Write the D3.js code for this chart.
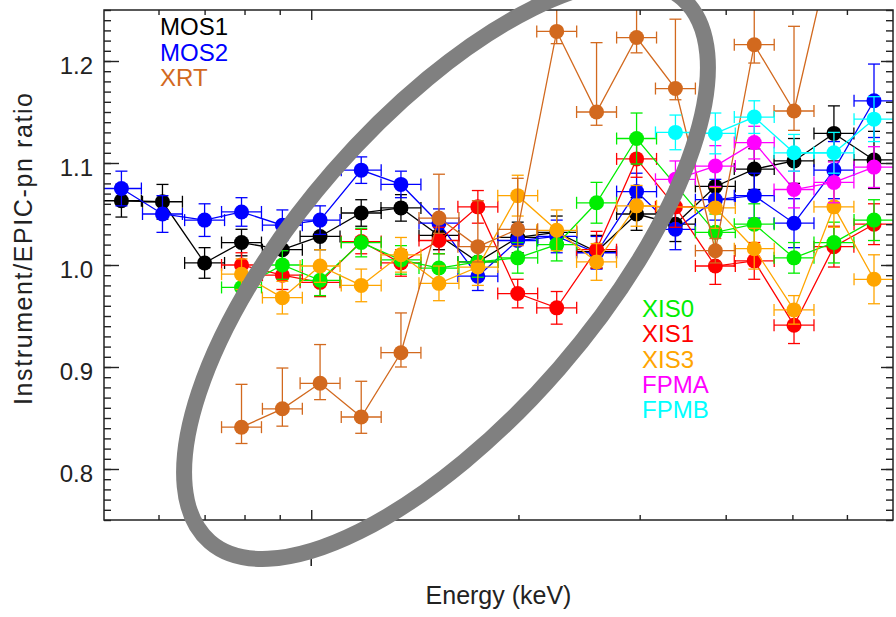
<!DOCTYPE html>
<html>
<head>
<meta charset="utf-8">
<script src="https://cdn.jsdelivr.net/npm/d3@7"></script>
<style>
  body { margin: 0; background: #fff; }
  svg { display: block; font-family: "Liberation Sans", Arial, Helvetica, sans-serif; }
</style>
</head>
<body>
<svg width="896" height="617"></svg>
<script>
// bin centres (keV), shared by all instruments
const energies = [0.530, 0.608, 0.700, 0.792, 0.908, 1.030, 1.182, 1.350, 1.533, 1.746,
                  1.995, 2.273, 2.597, 2.969, 3.381, 3.864, 4.401, 5.027, 5.745, 6.569];
const binHalfDex = 0.029; // half bin width in log10(E)

const mos1    = [1.063, 1.062, 1.002, 1.022, 1.015, 1.028, 1.051, 1.056, 1.029, 1.003,
                 1.027, 1.032, 1.013, 1.050, 1.040, 1.077, 1.094, 1.102, 1.129, 1.103];
const mos1Err = [0.016, 0.017, 0.015, 0.013, 0.013, 0.013, 0.013, 0.013, 0.014, 0.014,
                 0.015, 0.016, 0.016, 0.016, 0.017, 0.018, 0.020, 0.022, 0.027, 0.028];

const mos2    = [1.075, 1.050, 1.044, 1.052, 1.039, 1.044, 1.093, 1.079, 1.041, 0.989,
                 1.024, 1.028, 1.012, 1.072, 1.035, 1.064, 1.068, 1.041, 1.093, 1.161];
const mos2Err = [0.017, 0.018, 0.016, 0.014, 0.015, 0.014, 0.013, 0.013, 0.014, 0.014,
                 0.015, 0.016, 0.016, 0.018, 0.020, 0.020, 0.022, 0.024, 0.028, 0.036];

const xrt      = [null, null, null, 0.841, 0.859, 0.884, 0.851, 0.914, 1.046, 1.018,
                  1.035, 1.229, 1.150, 1.223, 1.173, 1.014, 1.216, 1.151, 1.320, null];
const xrtErrUp = [null, null, null, 0.042, 0.040, 0.038, 0.035, 0.039, 0.043, 0.045,
                  0.050, 0.070, 0.068, 0.075, 0.068, 0.012, 0.080, 0.083, 0.090, null];
const xrtErrDn = [null, null, null, 0.016, 0.017, 0.016, 0.016, 0.014, 0.015, 0.015,
                  0.016, 0.012, 0.013, 0.015, 0.011, 0.012, 0.018, 0.019, 0.020, null];

const xis0    = [null, null, null, 0.978, 1.000, 0.985, 1.022, 1.005, 0.997, 1.003,
                 1.007, 1.020, 1.061, 1.124, null, 1.032, 1.040, 1.007, 1.022, 1.044];
const xis0Err = [null, null, null, 0.014, 0.014, 0.015, 0.014, 0.014, 0.014, 0.015,
                 0.015, 0.016, 0.020, 0.025, null, 0.018, 0.020, 0.015, 0.020, 0.020];

const xis1    = [null, null, null, 1.000, 0.990, 0.983, 1.023, 1.002, 1.024, 1.057,
                 0.972, 0.958, 1.015, 1.104, 1.057, 0.999, 1.004, 0.941, 1.018, 1.040];
const xis1Err = [null, null, null, 0.012, 0.014, 0.014, 0.012, 0.013, 0.013, 0.016,
                 0.014, 0.016, 0.018, 0.018, 0.020, 0.018, 0.018, 0.018, 0.020, 0.020];

const xis3    = [null, null, null, 0.991, 0.968, 0.999, 0.980, 1.010, 0.982, 0.998,
                 1.068, 1.034, 1.003, 1.058, null, 1.056, 1.016, 0.956, 1.057, 0.986];
const xis3Err = [null, null, null, 0.015, 0.016, 0.016, 0.016, 0.017, 0.017, 0.018,
                 0.020, 0.020, 0.018, 0.020, null, 0.020, 0.020, 0.014, 0.020, 0.024];

const fpma    = [null, null, null, null, null, null, null, null, null, null,
                 null, null, null, null, 1.084, 1.097, 1.120, 1.074, 1.081, 1.096];
const fpmaErr = [null, null, null, null, null, null, null, null, null, null,
                 null, null, null, null, 0.018, 0.020, 0.016, 0.018, 0.020, 0.020];

const fpmb    = [null, null, null, null, null, null, null, null, null, null,
                 null, null, null, null, 1.130, 1.129, 1.145, 1.110, 1.110, 1.143];
const fpmbErr = [null, null, null, null, null, null, null, null, null, null,
                 null, null, null, null, 0.017, 0.020, 0.016, 0.018, 0.020, 0.022];

const yMajorTicks = [0.8, 0.9, 1.0, 1.1, 1.2];
const xMajorTicks = [1];
const xMinorTicks = [0.6, 0.7, 0.8, 0.9, 2, 3, 4, 5, 6];

// drawing order (later on top)
const series = [
  { name: "MOS1", color: "#000000", v: mos1, up: mos1Err,  dn: mos1Err },
  { name: "MOS2", color: "#0000ff", v: mos2, up: mos2Err,  dn: mos2Err },
  { name: "XIS1", color: "#ff0000", v: xis1, up: xis1Err,  dn: xis1Err },
  { name: "XIS0", color: "#00ee00", v: xis0, up: xis0Err,  dn: xis0Err },
  { name: "XIS3", color: "#ffa500", v: xis3, up: xis3Err,  dn: xis3Err },
  { name: "XRT",  color: "#d2691e", v: xrt,  up: xrtErrUp, dn: xrtErrDn },
  { name: "FPMA", color: "#ff00ff", v: fpma, up: fpmaErr,  dn: fpmaErr },
  { name: "FPMB", color: "#00ffff", v: fpmb, up: fpmbErr,  dn: fpmbErr }
];
const legendTop    = ["MOS1", "MOS2", "XRT"];
const legendBottom = ["XIS0", "XIS1", "XIS3", "FPMA", "FPMB"];
const colorOf = name => series.find(s => s.name === name).color;

const svg = d3.select("svg");
const plotL = 104, plotR = 893, plotT = 10, plotB = 520;
const ink = "#222";

const x = d3.scaleLog().domain([0.5, 7]).range([plotL, plotR]);
const y = d3.scaleLinear().domain([0.75, 1.25]).range([plotB, plotT]);

svg.append("defs").append("clipPath").attr("id", "plotClip")
  .append("rect")
  .attr("x", plotL).attr("y", plotT)
  .attr("width", plotR - plotL).attr("height", plotB - plotT);

const plot = svg.append("g").attr("clip-path", "url(#plotClip)");
const line = d3.line().x(d => x(d.e)).y(d => y(d.v));
const cap = 6;
const k = Math.pow(10, binHalfDex);

series.forEach(s => {
  const pts = energies.map((e, i) => ({ e: e, v: s.v[i], up: s.up[i], dn: s.dn[i] }))
    .filter(d => d.v != null);
  const g = plot.append("g").attr("stroke", s.color).attr("stroke-width", 1.3);

  g.append("path").attr("d", line(pts)).attr("fill", "none");

  const eb = g.selectAll(".eb").data(pts).join("g").attr("class", "eb");
  // x error bars with end caps
  eb.append("line")
    .attr("x1", d => x(d.e / k)).attr("x2", d => x(d.e * k))
    .attr("y1", d => y(d.v)).attr("y2", d => y(d.v));
  eb.append("line")
    .attr("x1", d => x(d.e / k)).attr("x2", d => x(d.e / k))
    .attr("y1", d => y(d.v) - cap).attr("y2", d => y(d.v) + cap);
  eb.append("line")
    .attr("x1", d => x(d.e * k)).attr("x2", d => x(d.e * k))
    .attr("y1", d => y(d.v) - cap).attr("y2", d => y(d.v) + cap);
  // y error bars with end caps
  eb.append("line")
    .attr("x1", d => x(d.e)).attr("x2", d => x(d.e))
    .attr("y1", d => y(d.v + d.up)).attr("y2", d => y(d.v - d.dn));
  eb.append("line")
    .attr("x1", d => x(d.e) - cap).attr("x2", d => x(d.e) + cap)
    .attr("y1", d => y(d.v + d.up)).attr("y2", d => y(d.v + d.up));
  eb.append("line")
    .attr("x1", d => x(d.e) - cap).attr("x2", d => x(d.e) + cap)
    .attr("y1", d => y(d.v - d.dn)).attr("y2", d => y(d.v - d.dn));

  g.selectAll("circle").data(pts).join("circle")
    .attr("cx", d => x(d.e)).attr("cy", d => y(d.v))
    .attr("r", 7.5).attr("fill", s.color).attr("stroke", "none");
});

// axes: ticks point inward on all four sides
const yMinor = d3.range(0.75, 1.2501, 0.01);
function styleAxis(g) {
  g.select(".domain").remove();
  g.selectAll("line").attr("stroke", ink).attr("stroke-width", 1.4);
}
svg.append("g").attr("transform", `translate(${plotL},0)`)
  .call(d3.axisLeft(y).tickValues(yMinor).tickSize(-7).tickFormat(""))
  .call(styleAxis);
svg.append("g").attr("transform", `translate(${plotL},0)`)
  .call(d3.axisLeft(y).tickValues(yMajorTicks).tickSize(-15).tickPadding(11).tickFormat(d3.format(".1f")))
  .call(styleAxis)
  .call(g => g.selectAll("text").attr("font-size", 24).attr("fill", ink)
    .attr("font-family", null).attr("dy", "0.52em"));
svg.append("g").attr("transform", `translate(${plotR},0)`)
  .call(d3.axisRight(y).tickValues(yMinor).tickSize(-7).tickFormat(""))
  .call(styleAxis);
svg.append("g").attr("transform", `translate(${plotR},0)`)
  .call(d3.axisRight(y).tickValues(yMajorTicks).tickSize(-12).tickFormat(""))
  .call(styleAxis);

svg.append("g").attr("transform", `translate(0,${plotB})`)
  .call(d3.axisBottom(x).tickValues(xMinorTicks).tickSize(-5).tickFormat(""))
  .call(styleAxis);
svg.append("g").attr("transform", `translate(0,${plotB})`)
  .call(d3.axisBottom(x).tickValues(xMajorTicks).tickSize(-10).tickFormat(""))
  .call(styleAxis);
svg.append("g").attr("transform", `translate(0,${plotT})`)
  .call(d3.axisTop(x).tickValues(xMinorTicks).tickSize(-5).tickFormat(""))
  .call(styleAxis);
svg.append("g").attr("transform", `translate(0,${plotT})`)
  .call(d3.axisTop(x).tickValues(xMajorTicks).tickSize(-10).tickFormat(""))
  .call(styleAxis);

// stray mark under the x axis at the 1 keV tick
svg.selectAll(".xmark").data(xMajorTicks).join("line").attr("class", "xmark")
  .attr("x1", d => x(d)).attr("x2", d => x(d))
  .attr("y1", 555).attr("y2", 566)
  .attr("stroke", ink).attr("stroke-width", 1.6);

svg.append("rect")
  .attr("x", plotL).attr("y", plotT)
  .attr("width", plotR - plotL).attr("height", plotB - plotT)
  .attr("fill", "none").attr("stroke", ink).attr("stroke-width", 1.5);

// axis titles
svg.append("text")
  .attr("x", (plotL + plotR) / 2).attr("y", 604)
  .attr("text-anchor", "middle").attr("font-size", 25).attr("fill", ink)
  .text("Energy (keV)");
svg.append("text")
  .attr("transform", "rotate(-90)")
  .attr("x", -249).attr("y", 32)
  .attr("text-anchor", "middle").attr("font-size", 25).attr("fill", ink)
  .attr("textLength", 312).attr("lengthAdjust", "spacing")
  .text("Instrument/EPIC-pn ratio");

// legends
svg.selectAll(".legTop").data(legendTop).join("text").attr("class", "legTop")
  .attr("x", 160).attr("y", (d, i) => 35 + i * 25.5)
  .attr("font-size", 24).attr("fill", d => colorOf(d))
  .text(d => d);
svg.selectAll(".legBot").data(legendBottom).join("text").attr("class", "legBot")
  .attr("x", 642).attr("y", (d, i) => 317 + i * 25.3)
  .attr("font-size", 24).attr("fill", d => colorOf(d))
  .text(d => d);

// grey hand-drawn style ellipse on top of everything
svg.append("ellipse")
  .attr("transform", "translate(446,270) rotate(-49)")
  .attr("rx", 360).attr("ry", 150)
  .attr("fill", "none").attr("stroke", "#808080").attr("stroke-width", 16);
</script>
</body>
</html>
